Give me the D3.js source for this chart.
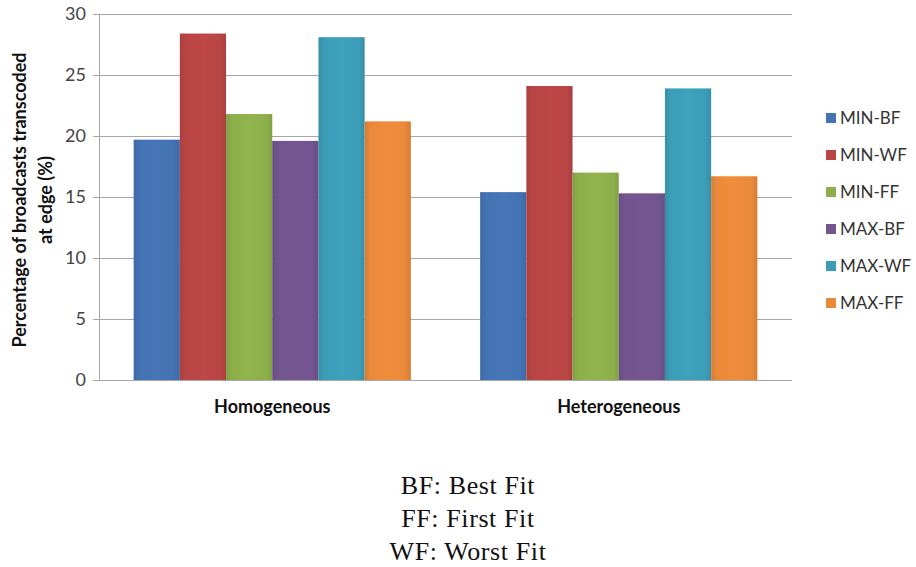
<!DOCTYPE html>
<html>
<head>
<meta charset="utf-8">
<script src="https://cdn.jsdelivr.net/npm/d3@7"></script>
<style>
  html, body { margin: 0; padding: 0; background: #fff; }
  svg { display: block; }
</style>
</head>
<body>
<svg id="chart" width="916" height="567"></svg>
<script>
// Scenario groups along the x axis
const categories = ["Homogeneous", "Heterogeneous"];
// Placement policies (one bar each per scenario)
const series = ["MIN-BF", "MIN-WF", "MIN-FF", "MAX-BF", "MAX-WF", "MAX-FF"];
// Percentage of broadcasts transcoded at edge, per policy
const homogeneousValues = [19.7, 28.4, 21.8, 19.6, 28.1, 21.2];
const heterogeneousValues = [15.4, 24.1, 17.0, 15.3, 23.9, 16.7];
const yTicks = [0, 5, 10, 15, 20, 25, 30];
const yTitleLines = ["Percentage of broadcasts transcoded", "at edge (%)"];
const notes = ["BF: Best Fit", "FF: First Fit", "WF: Worst Fit"];

const colors = ["#4473B3", "#B94545", "#8DAF4B", "#72548F", "#3C9DB7", "#E9893A"];

const valuesByCategory = [homogeneousValues, heterogeneousValues];
const rows = categories.map((c, i) => ({
  category: c,
  values: series.map((s, j) => ({ series: s, value: valuesByCategory[i][j] }))
}));

const svg = d3.select("#chart");
const plot = { left: 99, right: 792, top: 14, bottom: 380 };

const x0 = d3.scaleBand().domain(categories).range([plot.left, plot.right]).padding(0);
const bw = x0.bandwidth();
const x1 = d3.scaleBand().domain(series).range([bw * 0.1, bw * 0.9]).padding(0);
const y = d3.scaleLinear().domain([0, 30]).range([plot.bottom, plot.top]);
const color = d3.scaleOrdinal().domain(series).range(colors);

// Soft shading across each bar
const defs = svg.append("defs");
series.forEach((s, i) => {
  const base = d3.color(colors[i]);
  const g = defs.append("linearGradient")
    .attr("id", "grad" + i).attr("x1", "0%").attr("x2", "100%").attr("y1", "0%").attr("y2", "0%");
  [[0, base.darker(0.25)], [0.12, base], [0.5, base.brighter(0.08)], [0.88, base], [1, base.darker(0.25)]]
    .forEach(([o, c]) => g.append("stop").attr("offset", o).attr("stop-color", c));
});

// Gridlines with outward ticks
const yAxis = d3.axisLeft(y).tickValues(yTicks).tickSize(-(plot.right - plot.left)).tickPadding(13).tickFormat(d3.format("d"));
const gy = svg.append("g").attr("transform", `translate(${plot.left},0)`).call(yAxis);
gy.select(".domain").remove();
gy.selectAll(".tick line").attr("stroke", "#a6a6a6").attr("stroke-width", 1)
  .attr("x1", -6);
gy.selectAll(".tick text")
  .attr("fill", "#444").attr("font-family", "Lato, 'Open Sans', sans-serif").attr("font-size", 18);

// Left axis line
svg.append("line")
  .attr("x1", plot.left + 0.5).attr("x2", plot.left + 0.5)
  .attr("y1", plot.top).attr("y2", plot.bottom)
  .attr("stroke", "#a6a6a6");

// Bars
const groups = svg.append("g").selectAll("g").data(rows).join("g")
  .attr("transform", d => `translate(${x0(d.category)},0)`);
groups.selectAll("rect").data(d => d.values).join("rect")
  .attr("x", d => x1(d.series))
  .attr("width", x1.bandwidth())
  .attr("y", d => y(d.value))
  .attr("height", d => y(0) - y(d.value))
  .attr("fill", d => `url(#grad${series.indexOf(d.series)})`);

// Baseline
svg.append("line")
  .attr("x1", plot.left - 6).attr("x2", plot.right)
  .attr("y1", y(0) + 0.5).attr("y2", y(0) + 0.5)
  .attr("stroke", "#a6a6a6");

// Category labels
svg.append("g").selectAll("text").data(categories).join("text")
  .attr("x", d => x0(d) + bw / 2)
  .attr("y", 413)
  .attr("text-anchor", "middle")
  .attr("font-family", "Lato, 'Open Sans', sans-serif")
  .attr("font-weight", "bold")
  .attr("font-size", 18)
  .attr("fill", "#111")
  .text(d => d);

// Y axis title (two lines, rotated)
const yt = svg.append("text")
  .attr("transform", "translate(0,200) rotate(-90)")
  .attr("text-anchor", "middle")
  .attr("font-family", "Lato, 'Open Sans', sans-serif")
  .attr("font-weight", "bold")
  .attr("font-size", 18)
  .attr("fill", "#111");
yt.selectAll("tspan").data(yTitleLines).join("tspan")
  .attr("x", 0)
  .attr("y", (d, i) => 26 + i * 26)
  .text(d => d);

// Legend
const legend = svg.append("g").selectAll("g").data(series).join("g")
  .attr("transform", (d, i) => `translate(826,${118 + i * 37})`);
legend.append("rect")
  .attr("x", 0).attr("y", -5).attr("width", 10).attr("height", 10)
  .attr("fill", d => color(d));
legend.append("text")
  .attr("x", 14).attr("y", 0).attr("dy", "0.35em")
  .attr("font-family", "Lato, 'Open Sans', sans-serif")
  .attr("font-size", 17)
  .attr("fill", "#333")
  .text(d => d);

// Abbreviation notes below the chart
svg.append("g").selectAll("text").data(notes).join("text")
  .attr("x", 468)
  .attr("y", (d, i) => 494 + i * 33)
  .attr("text-anchor", "middle")
  .attr("font-family", "'Liberation Serif', 'DejaVu Serif', serif")
  .attr("font-size", 26)
  .attr("letter-spacing", 0.6)
  .attr("fill", "#111")
  .text(d => d);
</script>
</body>
</html>
